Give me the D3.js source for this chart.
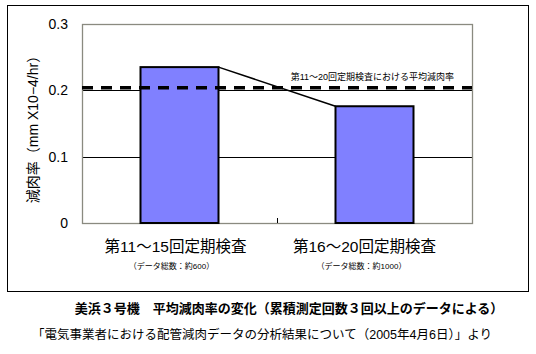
<!DOCTYPE html>
<html>
<head>
<meta charset="utf-8">
<script src="https://cdn.jsdelivr.net/npm/d3@7"></script>
<style>
  body { margin: 0; background: #fff; }
  text { font-family: "Liberation Sans", Arial, "Noto Sans CJK JP", sans-serif; }
</style>
</head>
<body>
<svg id="chart" width="536" height="354"></svg>
<script>
var categories = ["第11〜15回定期検査", "第16〜20回定期検査"];
var dataCounts = ["（データ総数：約600）", "（データ総数：約1000）"];
var rates = [0.235, 0.176];
var averageRate = 0.204;
var yTicks = [0, 0.1, 0.2, 0.3];

var svg = d3.select("#chart");

var margin = {left: 82, top: 24, right: 64, bottom: 131};
var width = 536 - margin.left - margin.right;
var height = 354 - margin.top - margin.bottom;

var x = d3.scaleBand().domain(categories).range([0, width]).paddingInner(0.6).paddingOuter(0.3);
var xb = d3.scaleBand().domain(categories).range([0, width]);
var y = d3.scaleLinear().domain([0, 0.3]).range([height, 0]);

// outer frame
svg.append("rect")
    .attr("x", 7.5).attr("y", 5.5)
    .attr("width", 521).attr("height", 286)
    .attr("fill", "none").attr("stroke", "#000").attr("stroke-width", 1);

var g = svg.append("g").attr("transform", "translate(" + margin.left + "," + margin.top + ")");

// grid
g.selectAll(".grid")
    .data(yTicks.filter(d => d > 0 && d < 0.3))
    .enter().append("line")
    .attr("x1", 0).attr("x2", width)
    .attr("y1", d => Math.round(y(d)) + 0.5).attr("y2", d => Math.round(y(d)) + 0.5)
    .attr("stroke", "#000").attr("stroke-width", 1);

// plot border
g.append("rect")
    .attr("x", 0.5).attr("y", 0.5)
    .attr("width", width).attr("height", height)
    .attr("fill", "none").attr("stroke", "#8a8a80").attr("stroke-width", 1.3);

// y tick labels
g.selectAll(".ytick")
    .data(yTicks)
    .enter().append("text")
    .attr("x", -14).attr("y", d => y(d) + 5)
    .attr("text-anchor", "end")
    .style("font-size", "14px")
    .text(d => d === 0 ? "0" : d3.format(".1f")(d));

// category boundary ticks
g.selectAll(".xtick")
    .data(categories.slice(1))
    .enter().append("line")
    .attr("x1", d => xb(d) + 0.5).attr("x2", d => xb(d) + 0.5)
    .attr("y1", height).attr("y2", height - 5)
    .attr("stroke", "#000");

// bars
g.selectAll(".bar")
    .data(rates)
    .enter().append("rect")
    .attr("x", (d, i) => x(categories[i]))
    .attr("y", d => y(d))
    .attr("width", x.bandwidth())
    .attr("height", d => height - y(d))
    .attr("fill", "#8080ff")
    .attr("stroke", "#000").attr("stroke-width", 2);

// connector line between bar tops
g.append("line")
    .attr("x1", x(categories[0]) + x.bandwidth()).attr("y1", y(rates[0]))
    .attr("x2", x(categories[1])).attr("y2", y(rates[1]))
    .attr("stroke", "#000").attr("stroke-width", 1.5);

// average dashed line
g.append("line")
    .attr("x1", 0).attr("x2", width)
    .attr("y1", y(averageRate)).attr("y2", y(averageRate))
    .attr("stroke", "#000").attr("stroke-width", 3.5)
    .attr("stroke-dasharray", "11,8");

g.append("text")
    .attr("x", width - 18).attr("y", y(averageRate) - 8)
    .attr("text-anchor", "end")
    .style("font-size", "9px")
    .text("第11～20回定期検査における平均減肉率");

// category labels
g.selectAll(".cat")
    .data(categories)
    .enter().append("text")
    .attr("x", (d, i) => xb(d) + xb.bandwidth() / 2 - (i === 0 ? 4 : 10))
    .attr("y", height + 29)
    .attr("text-anchor", "middle")
    .style("font-size", "15.5px")
    .text(d => d);

g.selectAll(".cnt")
    .data(dataCounts)
    .enter().append("text")
    .attr("x", (d, i) => xb(categories[i]) + xb.bandwidth() / 2 - (i === 0 ? 8 : 13))
    .attr("y", height + 46)
    .attr("text-anchor", "middle")
    .style("font-size", "8px")
    .text(d => d);

// y axis title
svg.append("text")
    .attr("transform", "translate(38,126) rotate(-90)")
    .attr("text-anchor", "middle")
    .style("font-size", "14px")
    .text("減肉率（mm X10−4/hr）");

// captions
svg.append("text")
    .attr("x", 289).attr("y", 313)
    .attr("text-anchor", "middle")
    .style("font-size", "13px")
    .style("font-weight", "bold")
    .text("美浜３号機　平均減肉率の変化（累積測定回数３回以上のデータによる）");

svg.append("text")
    .attr("x", 262).attr("y", 339)
    .attr("text-anchor", "middle")
    .style("font-size", "12.5px")
    .text("「電気事業者における配管減肉データの分析結果について（2005年4月6日）」より");
</script>
</body>
</html>
